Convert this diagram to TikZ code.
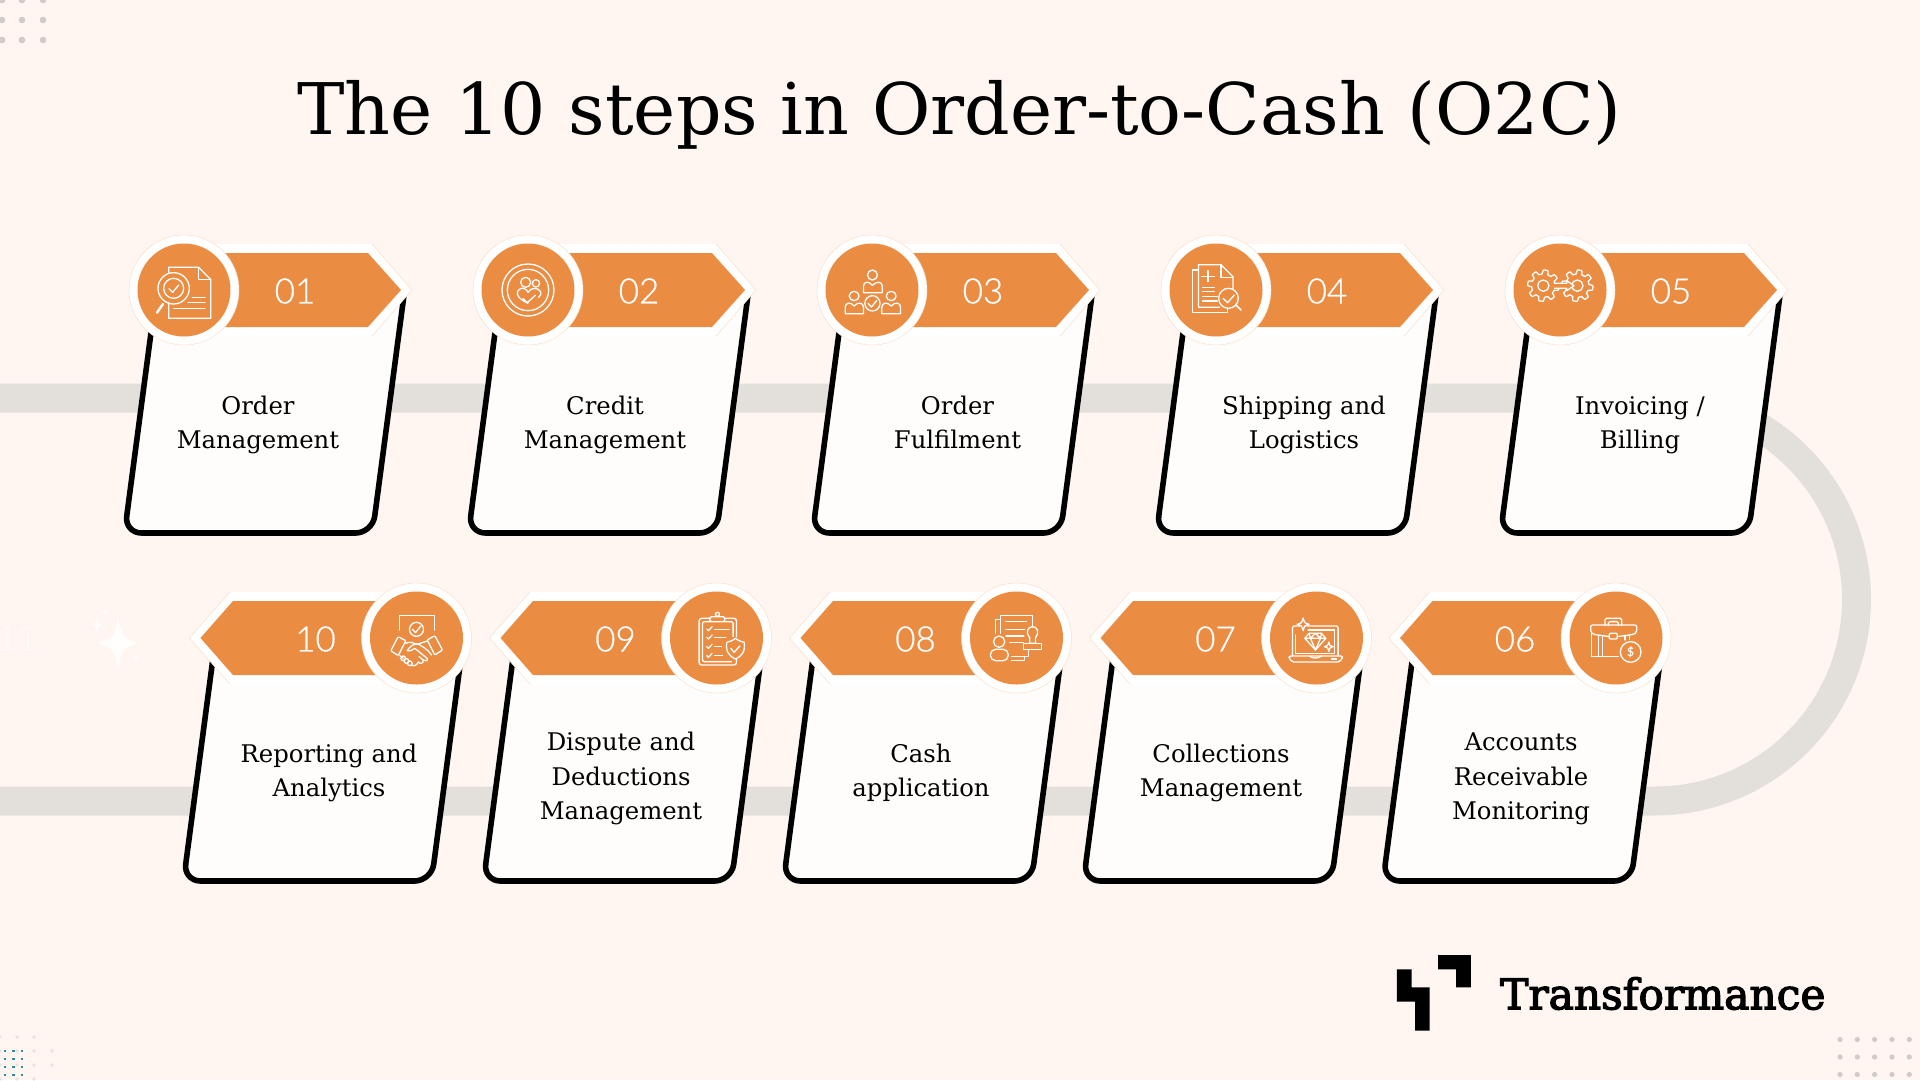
\documentclass[tikz,border=0pt]{standalone}
\usepackage{fontspec}
\setmainfont{DejaVu Serif}
\newfontfamily\numfont[FakeBold=0.6]{Lato Light}
\newfontfamily\numbold{Lato}
\definecolor{bg}{HTML}{FFF6F2}
\definecolor{orangeb}{HTML}{EB8C43}
\definecolor{band}{HTML}{E3DFDA}
\definecolor{peach}{HTML}{FADFC8}
\definecolor{cardw}{HTML}{FFFDFB}
\definecolor{dotg}{HTML}{CFCBC8}
\definecolor{dotl}{HTML}{E6E2DF}
\definecolor{teal}{HTML}{2A8F9A}
\definecolor{faint}{HTML}{FFFBF9}
\definecolor{sparkw}{HTML}{FFFEFD}
\tikzset{
 cardbox/.style={fill=cardw,draw=black,line width=5.6pt,rounded corners=17pt},
 banfill/.style={fill=orangeb},
 halofill/.style={fill=white},
 haloline/.style={draw=peach,line width=.5pt},
 numtext/.style={text=white,font=\numfont\fontsize{35}{38}\selectfont,inner sep=0pt},
 cardtext/.style={align=center,text=black,font=\fontsize{24.3}{34.4}\selectfont,inner sep=0pt},
}
% card: x of left centreline at bottom, circle y
\newcommand\cardshape[2]{\path[cardbox] ({#1+31.5},{#2+5}) -- (#1,{#2+243}) -- ({#1+248},{#2+243}) -- ({#1+279.5},{#2+5});}
\newcommand\headR[2]{%
 \fill[halofill] (#1,{#2-46}) -- ({#1+188},{#2-46}) -- ({#1+228},#2) -- ({#1+188},{#2+46}) -- (#1,{#2+46}) -- cycle;
 \draw[haloline] ({#1+188},{#2-46}) -- ({#1+228},#2) -- ({#1+188},{#2+46});
 \fill[banfill] (#1,{#2-37}) -- ({#1+184},{#2-37}) -- ({#1+217},#2) -- ({#1+184},{#2+37}) -- (#1,{#2+37}) -- cycle;
 \fill[halofill] (#1,#2) circle[radius=55pt];
 \draw[haloline] (#1,#2) circle[radius=55pt];
 \fill[banfill] (#1,#2) circle[radius=46.5pt];}
\newcommand\headL[2]{%
 \fill[halofill] (#1,{#2-46}) -- ({#1-186.5},{#2-46}) -- ({#1-227},#2) -- ({#1-186.5},{#2+46}) -- (#1,{#2+46}) -- cycle;
 \draw[haloline] ({#1-186.5},{#2-46}) -- ({#1-227},#2) -- ({#1-186.5},{#2+46});
 \fill[banfill] (#1,{#2-37}) -- ({#1-183.5},{#2-37}) -- ({#1-216},#2) -- ({#1-183.5},{#2+37}) -- (#1,{#2+37}) -- cycle;
 \fill[halofill] (#1,#2) circle[radius=55pt];
 \draw[haloline] (#1,#2) circle[radius=55pt];
 \fill[banfill] (#1,#2) circle[radius=46.5pt];}
\newcommand\iconat[5]{\begin{scope}[shift={({#1-#3/3},{#2-#4/3})},x=.3333pt,y=-.3333pt,white,line width=1.3pt,line join=round,line cap=round]#5\end{scope}}
\newcommand\iconsq[5]{\begin{scope}[shift={({#1-#3/2.24},{#2-#4/3})},x=.4464pt,y=-.3333pt,white,line width=1.3pt,line join=round,line cap=round]#5\end{scope}}
\newcommand\gear[2]{\draw plot[domain=0:360,samples=181] ({#1+(41+6*max(-1,min(1,2.5*sin(8*\x+22))))*cos(\x)},{#2+(41+6*max(-1,min(1,2.5*sin(8*\x+22))))*sin(\x)}) -- cycle;}
\newcommand\fatspark[4]{({#1},{#2-#4}) .. controls ({#1+.22*#3},{#2-.22*#4}) .. ({#1+#3},#2) .. controls ({#1+.22*#3},{#2+.22*#4}) .. (#1,{#2+#4}) .. controls ({#1-.22*#3},{#2+.22*#4}) .. ({#1-#3},#2) .. controls ({#1-.22*#3},{#2-.22*#4}) .. ({#1},{#2-#4}) -- cycle}
\begin{document}
\begin{tikzpicture}[x=1pt,y=-1pt]
\useasboundingbox (0,0) rectangle (1920,1080);
\fill[bg] (0,0) rectangle (1920,1080);
% corner dots
\foreach \a in {2,22,43}\foreach \b in {0,20,40}\fill[dotg] (\a,\b) circle[radius=3.3pt];
\foreach \a in {1840,1857.3,1874.6,1892,1909.3}\foreach \b in {1039.5,1057,1074.5}\fill[dotg] (\a,\b) circle[radius=2.6pt];
\foreach \a in {0,17,34}\foreach \b in {1037,1051,1065,1079}\fill[dotl] (\a,\b) circle[radius=1.9pt];
\foreach \b in {1051,1065}\fill[dotl] (52,\b) circle[radius=1.9pt];
\foreach \a in {5,13.5,22}\foreach \b in {1051,1059,1067,1075}\fill[teal] ({\a-1.2},{\b-1.2}) rectangle ({\a+1.2},{\b+1.2});
% faint decoration
\node[text=faint,font=\numfont\fontsize{35}{38}\selectfont,inner sep=0pt] (eleven) at (17,638) {11};
\fill[sparkw] \fatspark{118}{643}{20}{26};
\fill[sparkw] \fatspark{97}{625}{6}{8};
\fill[sparkw] \fatspark{105.5}{612}{4}{4.5};
\fill[sparkw] \fatspark{136}{658}{3}{4};
% track
\draw[band,line width=29pt] (0,398) -- (1655,398) arc[start angle=90,end angle=-90,radius=201.5pt] -- (0,801);
% title
\node[inner sep=0pt,font=\fontsize{71.2}{74}\selectfont,text=black] (title) at (959.5,115) {The 10 steps in Order-to-Cash (O2C)};
% cards
\cardshape{124.5}{290}\cardshape{468.5}{290}\cardshape{812.5}{290}\cardshape{1156.5}{290}\cardshape{1500.5}{290}
\cardshape{183.5}{638}\cardshape{483.5}{638}\cardshape{783.5}{638}\cardshape{1083.5}{638}\cardshape{1383}{638}
% heads
\headR{184}{290}\headR{528}{290}\headR{872}{290}\headR{1216}{290}\headR{1560}{290}
\headL{416.5}{638}\headL{716.5}{638}\headL{1016.5}{638}\headL{1316.5}{638}\headL{1616}{638}
% numbers
\node[numtext] (n01) at (295,291) {01};
\node[numtext] (n02) at (639,291) {02};
\node[numtext] (n03) at (983,291) {03};
\node[numtext] (n04) at (1327,291) {04};
\node[numtext] (n05) at (1671,291) {05};
\node[numtext] (n10) at (315.5,639) {10};
\node[numtext] (n09) at (615.5,639) {09};
\node[numtext] (n08) at (915.5,639) {08};
\node[numtext] (n07) at (1215.5,639) {07};
\node[numtext] (n06) at (1515,639) {06};
% card text
\node[cardtext] (t01) at (258,424.5) {Order\strut\\Management\strut};
\node[cardtext] (t02) at (605,424.5) {Credit\strut\\Management\strut};
\node[cardtext] (t03) at (957.5,424.5) {Order\strut\\Fulfilment\strut};
\node[cardtext] (t04) at (1304,424.5) {Shipping and\strut\\Logistics\strut};
\node[cardtext] (t05) at (1640,424.5) {Invoicing /\strut\\Billing\strut};
\node[cardtext] (t10) at (329,772.5) {Reporting and\strut\\Analytics\strut};
\node[cardtext] (t09) at (621,778.5) {Dispute and\strut\\Deductions\strut\\Management\strut};
\node[cardtext] (t08) at (921,772.5) {Cash\strut\\application\strut};
\node[cardtext] (t07) at (1221,772.5) {Collections\strut\\Management\strut};
\node[cardtext] (t06) at (1521,778.5) {Accounts\strut\\Receivable\strut\\Monitoring\strut};
% icon 01
\iconat{184}{290}{253}{210}{
 \draw (207,160)--(207,142)--(297,142)--(333,178)--(333,295)--(207,295)--(207,247);
 \draw (297,142)--(297,178)--(333,178);
 \draw (222,205) circle[radius=47];
 \draw (222,205) circle[radius=30];
 \draw (208,206)--(219,217)--(237,195);
 \draw[line width=2.4pt] (190,252)--(172,278);
 \draw (278,232)--(316,232) (265,248)--(316,248) (222,265)--(316,265);
}
% icon 02
\iconat{528}{290}{150}{150}{
 \draw (150,150) circle[radius=78];
 \draw (150,150) circle[radius=62];
 \draw (143,127) circle[radius=15];
 \draw (174,130) circle[radius=11];
 \draw (150,190) .. controls (125,178) and (112,165) .. (120,152) .. controls (128,140) and (145,143) .. (150,157) .. controls (158,143) and (178,140) .. (188,155) .. controls (190,160) and (188,168) .. (182,172);
 \draw (135,176)--(148,188)--(172,166);
}
% icon 03
\iconsq{872}{290}{162}{210}{
 \draw (163,165) circle[x radius=11,y radius=15];
 \draw (143,218) -- (143,198) .. controls (143,185) and (155,182) .. (163,196) .. controls (172,182) and (185,185) .. (185,198) -- (185,218) -- cycle;
 \draw (122,228) circle[x radius=11,y radius=14];
 \draw (102,281) -- (102,262) .. controls (102,248) and (114,244) .. (122,258) .. controls (131,244) and (143,248) .. (143,262) -- (143,281) -- cycle;
 \draw (205,228) circle[x radius=11,y radius=14];
 \draw (184,281) -- (184,262) .. controls (184,248) and (196,244) .. (205,258) .. controls (214,244) and (226,248) .. (226,262) -- (226,281) -- cycle;
 \draw (163,250) circle[x radius=17,y radius=23];
 \draw (153,250)--(161,261)--(173,241);
}
% icon 04
\iconsq{1216}{290}{932}{210}{
 \draw (893,150)--(880,150)--(880,277)--(958,277)--(958,264);
 \draw (940,262)--(893,262)--(893,134)--(943,134)--(970,170)--(970,208);
 \draw (943,134)--(943,172)--(970,172);
 \draw (914,152)--(914,185) (900,170)--(928,170);
 \draw (902,203)--(928,203) (902,215)--(928,215) (902,229)--(935,229) (902,243)--(935,243);
 \draw (960,235) circle[x radius=22,y radius=30];
 \draw (948,235)--(958,248)--(973,225);
 \draw[line width=1.6pt] (978,257)--(988,270);
}
% icon 05
\iconat{1560}{290}{150}{150}{
 \gear{100}{137}\gear{202}{137}
 \draw (100,137) circle[radius=17];
 \draw (202,137) circle[radius=17];
 \fill[orangeb] (128,128) rectangle (178,147);
 \draw[fill=orangeb] (133,130)--(170,130)--(170,122)--(192,137)--(170,152)--(170,145)--(133,145);
}
% icon 06
\iconat{1616}{638}{318}{1194}{
 \draw[rounded corners=1.5pt] (285,1157)--(285,1135)--(335,1135)--(335,1157);
 \draw[rounded corners=1.5pt] (295,1157)--(295,1145)--(325,1145)--(325,1157);
 \draw[rounded corners=2pt] (298,1190)--(250,1183)--(242,1178)--(242,1155)--(380,1155)--(380,1178)--(372,1183)--(322,1190);
 \draw[rounded corners=1pt] (298,1180) rectangle (322,1197);
 \draw (245,1183)--(245,1250)--(325,1250);
 \draw (265,1188)--(265,1250) (278,1190)--(278,1250);
 \draw (345,1188)--(345,1200) (358,1186)--(358,1198);
 \draw (362,1236) circle[radius=31];
 \node[inner sep=0pt,text=white,font=\numbold\bfseries\fontsize{12}{12}\selectfont] (dollar) at (362,1236) {\$};
}
% icon 10
\iconat{416.5}{638}{140}{144}{
 \draw (88,120)--(88,77)--(195,77)--(195,120);
 \draw (140,118) circle[radius=21];
 \draw (128,118)--(137,128)--(153,108);
 \draw[rounded corners=1pt] (85,140)--(108,152)--(85,197)--(63,182)--cycle;
 \draw[rounded corners=1pt] (195,137)--(218,180)--(195,195)--(172,150)--cycle;
 \draw (108,160) .. controls (122,152) and (132,162) .. (145,162) .. controls (155,160) and (163,155) .. (172,153);
 \draw (185,195) .. controls (175,178) and (155,168) .. (145,162) .. controls (130,160) and (118,172) .. (112,182) .. controls (122,185) and (130,178) .. (135,175) -- (172,205) .. controls (176,213) and (165,215) .. (160,210);
 \draw (160,210) -- (148,200) (160,210) .. controls (162,222) and (150,222) .. (145,216) (145,216) .. controls (142,228) and (130,228) .. (125,226);
 \draw (90,197)--(100,205);
 \draw (100,205) circle[radius=7];
 \draw (110,213) circle[radius=7];
 \draw (120,220) circle[radius=7];
}
% icon 09
\iconat{716.5}{638}{1040}{144}{
 \draw[rounded corners=2.5pt] (1022,85)--(988,85)--(988,225)--(1100,225)--(1100,152) (1064,85)--(1100,85)--(1100,140);
 \draw[rounded corners=2pt] (1022,95)--(998,95)--(998,215)--(1085,215) (1064,95)--(1090,95)--(1090,140);
 \draw[rounded corners=1.5pt] (1020,95)--(1020,80)--(1065,80)--(1065,95)--cycle;
 \draw (1043,73) circle[radius=6];
 \foreach \yy in {117,142,170,197}{\draw (1011,\yy)--(1016,{\yy+5})--(1027,{\yy-7});}
 \draw (1035,118)--(1078,118) (1035,143)--(1068,143) (1035,170)--(1055,170) (1035,197)--(1058,197);
 \draw[fill=orangeb] (1097,145) .. controls (1088,152) and (1080,155) .. (1071,157) .. controls (1066,185) and (1080,200) .. (1097,207) .. controls (1114,200) and (1128,185) .. (1123,157) .. controls (1114,155) and (1106,152) .. (1097,145) -- cycle;
 \draw (1083,175)--(1093,187)--(1110,168);
}
% icon 08
\iconat{1016.5}{638}{140}{144}{
 \draw (78,130)--(78,88)--(92,88);
 \draw (92,130)--(92,77)--(188,77)--(188,110);
 \draw (108,95)--(170,95) (108,118)--(165,118) (108,138)--(162,138) (120,158)--(160,158);
 \draw (125,200)--(175,200)--(175,180) (125,212)--(165,212)--(165,200);
 \draw (180,143) .. controls (165,125) and (175,110) .. (188,110) .. controls (201,110) and (211,125) .. (197,143) -- (197,160) -- (180,160) -- cycle;
 \draw (162,160) rectangle (215,178);
 \draw (88,155) circle[radius=17];
 \draw[rounded corners=5pt] (62,212)--(62,178)--(115,178)--(115,212)--cycle;
}
% icon 07
\iconat{1316.5}{638}{1040}{144}{
 \draw[rounded corners=1.5pt] (968,198)--(968,108)--(990,108) (1012,108)--(1105,108)--(1105,198);
 \draw (978,135)--(978,190)--(1095,190)--(1095,120)--(1015,120);
 \draw[rounded corners=1.5pt] (958,198)--(1118,198)--(1118,205)--(1108,216)--(968,216)--(958,205)--cycle;
 \draw (1020,198) .. controls (1022,206) and (1050,206) .. (1055,198);
 \draw (1085,207)--(1100,207);
 \draw (1005,145)--(1018,130)--(1055,130)--(1068,145)--(1037,180)--cycle;
 \draw (1005,145)--(1068,145) (1022,145)--(1037,180)--(1052,145) (1018,130)--(1022,145)--(1037,130)--(1052,145)--(1055,130);
 \draw[fill=orangeb] \fatspark{1000}{103}{18}{19};
 \draw[fill=orangeb] \fatspark{1077}{170}{13}{14};
}
% logo
\begin{scope}[shift={(1380,930)},x=.3444pt,y=-.3333pt]
 \fill[black] (49,118)--(92,118)--(92,172)--(144,172)--(144,302)--(102,302)--(102,215)--(49,215)--cycle;
 \fill[black] (169,75)--(264,75)--(264,172)--(221,172)--(221,118)--(169,118)--cycle;
\end{scope}
\node[inner sep=0pt,anchor=west,font=\fontsize{42.3}{46}\selectfont\addfontfeature{FakeBold=3},text=black] (brand) at (1500,993.5) {Transformance};
\end{tikzpicture}
\end{document}
